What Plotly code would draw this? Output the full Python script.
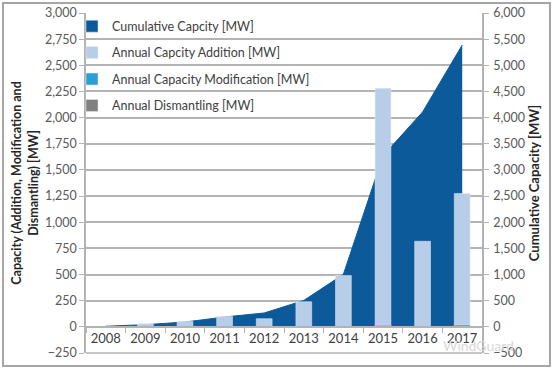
import plotly.graph_objects as go

years = ["2008", "2009", "2010", "2011", "2012", "2013", "2014", "2015", "2016", "2017"]
cumulative = [12, 42, 92, 188, 265, 505, 1005, 3270, 4108, 5387]
addition = [5, 30, 52, 100, 78, 240, 490, 2280, 818, 1275]
modification = [0, 0, 0, 0, 0, 0, 0, 15, 0, 18]
dismantling = [0, 0, 0, 0, 0, 0, 0, 0, 0, 0]

left_ticks = list(range(-250, 3001, 250))
right_ticks = list(range(-500, 6001, 500))

W, H = 554, 371
ML, MR, MT, MB = 86, 72, 13, 18
PW, PH = W - ML - MR, H - MT - MB

def px_x(p):
    return (p - ML) / PW

def px_y(p):
    return (H - MB - p) / PH

C_CUM = "#0c5a9a"
C_ADD = "#b8cde8"
C_MOD = "#2a9fd8"
C_DIS = "#808080"
GRID = "#b3b3b3"
FONT = "Lato"

fig = go.Figure()

fig.add_trace(go.Scatter(
    x=years, y=cumulative, yaxis="y", mode="lines",
    line=dict(color=C_CUM, width=1), fill="tozeroy", fillcolor=C_CUM,
    name="Cumulative Capcity [MW]", legendgroup="g1", showlegend=False,
))
fig.add_trace(go.Bar(
    x=[None], y=[None], yaxis="y2", marker_color=C_CUM,
    name="Cumulative Capcity [MW]", legendgroup="g1",
))
fig.add_trace(go.Bar(
    x=years, y=addition, yaxis="y2", marker_color=C_ADD, width=0.4,
    name="Annual Capcity Addition [MW]", legendgroup="g2",
))
fig.add_trace(go.Bar(
    x=years, y=modification, yaxis="y2", marker_color=C_MOD, width=0.4,
    name="Annual Capacity Modification [MW]", legendgroup="g3",
))
fig.add_trace(go.Bar(
    x=years, y=dismantling, yaxis="y2", marker_color=C_DIS, width=0.4,
    name="Annual Dismantling [MW]", legendgroup="g4",
))

fig.update_layout(
    width=W, height=H,
    margin=dict(l=ML, r=MR, t=MT, b=MB, pad=0, autoexpand=False),
    paper_bgcolor="white", plot_bgcolor="white",
    barmode="overlay",
    font=dict(family=FONT, color="#595959"),
    showlegend=True,
    legend=dict(
        x=px_x(72), y=px_y(11.5), xanchor="left", yanchor="top",
        bgcolor="rgba(0,0,0,0)", traceorder="grouped", tracegroupgap=7.2,
        font=dict(size=12.5, color="#404040", family=FONT),
    ),
    xaxis=dict(
        type="category", range=[-0.5, 9.5],
        anchor="free", position=250 / 3250,
        showline=True, linecolor=GRID, linewidth=1.5,
        ticks="outside", tickson="boundaries", ticklen=5, tickcolor=GRID,
        tickangle=0, automargin=False,
        tickfont=dict(size=13, color="#404040"),
        showgrid=False, fixedrange=True,
    ),
    yaxis=dict(
        side="right", range=[-500, 6000], tickvals=right_ticks,
        tickformat=",", showgrid=False, zeroline=False,
        showline=True, linecolor=GRID, linewidth=1.5,
        ticks="outside", ticklen=5, tickcolor=GRID, automargin=False,
        tickfont=dict(size=12.5, color="#595959"),
        ticklabelstandoff=2,
        title=dict(text="<b>Cumulative Capacity [MW]</b>",
                   font=dict(size=13, color="#262626"), standoff=6),
    ),
    yaxis2=dict(
        overlaying="y", side="left", range=[-250, 3000], tickvals=left_ticks,
        tickformat=",", showgrid=True, gridcolor=GRID, gridwidth=1.5,
        zeroline=False, automargin=False,
        showline=True, linecolor=GRID, linewidth=1.5,
        ticks="outside", ticklen=5, tickcolor=GRID,
        tickfont=dict(size=12.5, color="#595959"),
        title=dict(text="<b>Capacity (Addition, Modification and<br>Dismantling) [MW]</b>",
                   font=dict(size=12.5, color="#262626"), standoff=4),
    ),
    shapes=[
        dict(type="line", xref="paper", yref="paper", x0=0, x1=1, y0=0, y1=0,
             line=dict(color=GRID, width=1.5)),
        dict(type="rect", xref="paper", yref="paper",
             x0=px_x(3), x1=px_x(550), y0=px_y(366), y1=px_y(3),
             line=dict(color="#a6a6a6", width=2), layer="below"),
    ],
    annotations=[
        dict(text="WindGuard", xref="paper", yref="paper",
             x=px_x(478), y=px_y(345), xanchor="center", yanchor="middle",
             showarrow=False, font=dict(size=14, color="#d9d9d9", family=FONT)),
    ],
)

fig.write_html("out.html", config={"displayModeBar": False},
               post_script="document.body.style.margin='0px';")
